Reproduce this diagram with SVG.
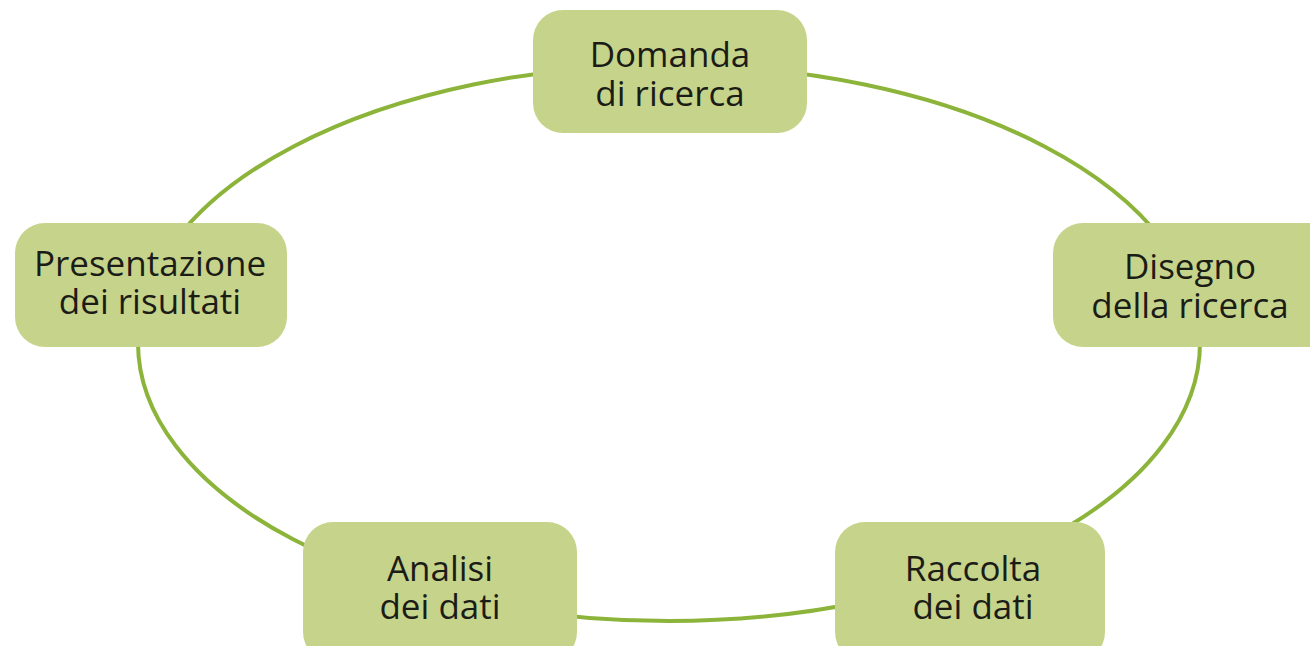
<svg xmlns="http://www.w3.org/2000/svg" width="1310" height="646" viewBox="0 0 1310 646">
<style>
.box{fill:#c6d48b;}
.lbl{font-family:"Open Sans","Liberation Sans",sans-serif;font-size:35px;fill:#1c1c17;text-anchor:middle;}
.ring{fill:none;stroke:#8cb43a;stroke-width:4;}
</style>
<rect width="1310" height="646" fill="#ffffff"/>
<g id="connectors">
<ellipse class="ring" cx="669" cy="343" rx="531" ry="278"/>
</g>
<g id="domanda">
<rect class="box" x="533" y="10" width="274" height="123" rx="30"/>
<text class="lbl" x="670" y="67">Domanda</text>
<text class="lbl" x="670" y="106">di ricerca</text>
</g>
<g id="disegno">
<rect class="box" x="1053" y="223" width="290" height="124" rx="30"/>
<text class="lbl" x="1190" y="279">Disegno</text>
<text class="lbl" x="1190" y="318">della ricerca</text>
</g>
<g id="raccolta">
<rect class="box" x="835" y="522" width="270" height="140" rx="30"/>
<text class="lbl" x="973" y="581">Raccolta</text>
<text class="lbl" x="973" y="619">dei dati</text>
</g>
<g id="analisi">
<rect class="box" x="303" y="522" width="274" height="140" rx="30"/>
<text class="lbl" x="440" y="581">Analisi</text>
<text class="lbl" x="440" y="619">dei dati</text>
</g>
<g id="presentazione">
<rect class="box" x="15" y="223" width="272" height="124" rx="30"/>
<text class="lbl" x="150" y="276">Presentazione</text>
<text class="lbl" x="150" y="314">dei risultati</text>
</g>
</svg>
